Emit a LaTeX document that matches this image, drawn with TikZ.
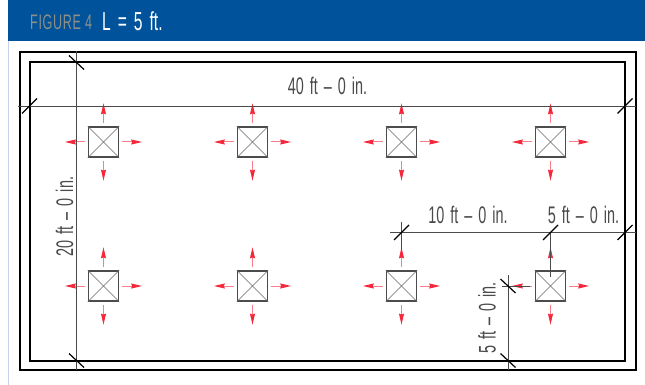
\documentclass[tikz,border=0pt]{standalone}
\usepackage{fontspec}
\setmainfont[FakeStretch=0.6]{Liberation Sans}
\usetikzlibrary{arrows, arrows.meta}
\usetikzlibrary{calc}
\definecolor{bannerblue}{HTML}{00529B}
\definecolor{figgray}{HTML}{8C9088}
\definecolor{edgeblue}{HTML}{C5D3EE}
\definecolor{dimgray}{HTML}{4A4A4A}
\definecolor{flowred}{HTML}{F4283A}
\tikzset{
  wall/.style={draw=black, line width=2pt},
  column/.style={draw=black!70, line width=1.3pt, minimum size=30pt, inner sep=0pt},
  diag/.style={draw=black!60, line width=0.6pt},
  dimline/.style={draw=dimgray, line width=0.8pt},
  tickmark/.style={draw=black, line width=1.2pt},
  dimtext/.style={text=dimgray, font={\fontsize{24}{24}\selectfont\spaceskip=6pt\relax}, inner sep=0pt},
  flow/.style={draw=flowred!60, line width=1pt, -{Stealth[length=11pt, width=5pt, inset=1pt, flowred]}}
}
\begin{document}
\begin{tikzpicture}[x=1pt, y=-1pt]
      \useasboundingbox (0, 0) rectangle (645, 385);

      \fill[bannerblue] (8, 0) rectangle (645, 41);
      \draw[edgeblue, line width=1pt] (8, 41) -- (8, 385);
      \node[anchor=west, text=figgray, inner sep=0pt, font={\fontsize{21}{21}\selectfont\addfontfeature{LetterSpace=3}}] (figno) at (30, 22) {FIGURE 4};
      \node[anchor=west, text=white, inner sep=0pt, font={\fontsize{26}{26}\selectfont\spaceskip=7pt\relax}] (figtitle) at (102, 21) {L = 5 ft.};

      \draw[wall] (19.5, 52.5) rectangle (635.5, 370);
      \draw[wall] (30, 62.5) rectangle (625, 360.5);

      \node[column] (c1) at (103.5, 142) {};
      \node[column] (c2) at (252.5, 142) {};
      \node[column] (c3) at (401.5, 142) {};
      \node[column] (c4) at (550.5, 142) {};
      \node[column] (c5) at (103.5, 286) {};
      \node[column] (c6) at (252.5, 286) {};
      \node[column] (c7) at (401.5, 286) {};
      \node[column] (c8) at (550.5, 286) {};

      \coordinate (a1) at (18, 106);
      \coordinate (a2) at (635.5, 106);
      \coordinate (a3) at (29.5, 106);
      \coordinate (a4) at (625, 106);
      \coordinate (b1) at (76.5, 51);
      \coordinate (b2) at (76.5, 370);
      \coordinate (b3) at (76.5, 62.5);
      \coordinate (b4) at (76.5, 360.5);
      \coordinate (d1) at (390, 232.5);
      \coordinate (d2) at (635.5, 232.5);
      \coordinate (d3) at (401.5, 232.5);
      \coordinate (d4) at (550.5, 232.5);
      \coordinate (d5) at (625, 232.5);
      \coordinate (d6) at (401.5, 222);
      \coordinate (d7) at (401.5, 250);
      \coordinate (d8) at (550.5, 277);
      \coordinate (e1) at (508, 275);
      \coordinate (e2) at (508, 370);
      \coordinate (e3) at (508, 286);
      \coordinate (e4) at (508, 360.5);
      \coordinate (e5) at (502, 286);
      \coordinate (e6) at (530, 286);

      \foreach \name in {c1, c2, c3, c4, c5, c6, c7, c8} {
        \draw[diag] (\name.north west) -- (\name.south east);
        \draw[diag] (\name.north east) -- (\name.south west);
        \draw[flow] ($(\name.north)+(0, -3)$) -- ($(\name.north)+(0, -23)$);
        \draw[flow] ($(\name.south)+(0, 3)$) -- ($(\name.south)+(0, 23)$);
        \draw[flow] ($(\name.west)+(-3, 0)$) -- ($(\name.west)+(-23, 0)$);
        \draw[flow] ($(\name.east)+(3, 0)$) -- ($(\name.east)+(23, 0)$);
      }

      \draw[dimline] (a1) -- (a2);
      \draw[dimline] (b1) -- (b2);
      \draw[dimline] (d1) -- (d2);
      \draw[dimline] (d6) -- (d7);
      \draw[dimline] (d4) -- (d8);
      \draw[dimline] (e1) -- (e2);
      \draw[dimline] (e5) -- (e6);

      \foreach \name in {a3, a4, d3, d4, d5} {
        \draw[tickmark] ($(\name)+(-7.5, 7.5)$) -- ($(\name)+(7.5, -7.5)$);
      }
      \foreach \name in {b3, b4, e3, e4} {
        \draw[tickmark] ($(\name)+(-7.5, -7)$) -- ($(\name)+(7.5, 7)$);
      }

      \node[dimtext] (len1) at (327.5, 85.5) {40 ft -- 0 in.};
      \node[dimtext] (len2) at (468, 215) {10 ft -- 0 in.};
      \node[dimtext] (len3) at (583.5, 215) {5 ft -- 0 in.};
      \node[dimtext, rotate=90] (len4) at (64.5, 216.5) {20 ft -- 0 in.};
      \node[dimtext, rotate=90] (len5) at (487, 318) {5 ft -- 0 in.};
    \end{tikzpicture}
\end{document}
